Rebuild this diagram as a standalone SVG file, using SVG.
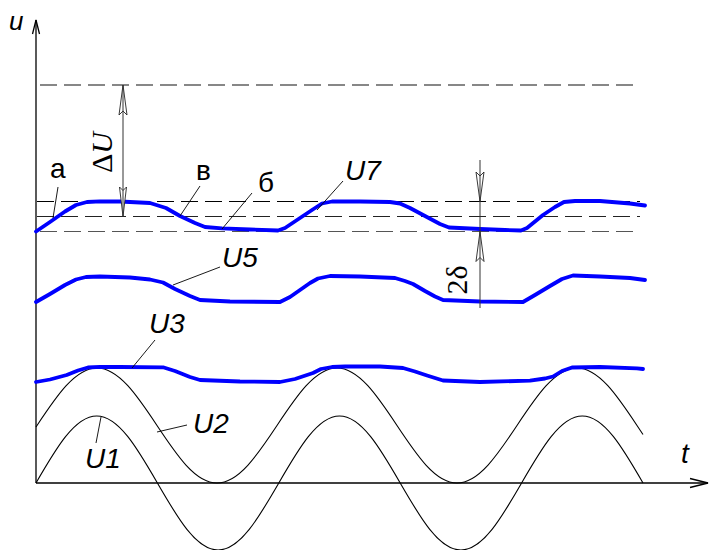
<svg xmlns="http://www.w3.org/2000/svg" width="709" height="550" viewBox="0 0 709 550">
<style>
.ax{stroke:#000;stroke-width:1.3;fill:none}
.dash{stroke-width:1.2;stroke-dasharray:17 7;fill:none}
.sin{stroke:#000;stroke-width:1.1;fill:none}
.blue{stroke:#0000ff;stroke-width:3.8;fill:none;stroke-linejoin:round;stroke-linecap:round}
.lead{stroke:#000;stroke-width:0.9;fill:none}
.dim{stroke:#333;stroke-width:1;fill:none}
.ah{fill:#fff;stroke:#222;stroke-width:0.9}
.lbl{font-family:"Liberation Sans",Arial,sans-serif;font-size:28px;fill:#000}
.it{font-style:italic}
.ser{font-family:"Liberation Serif","Times New Roman",serif;font-size:30px;fill:#000}
</style>
<rect width="709" height="550" fill="#fff"/>
<g id="axes">
<line class="ax" x1="36" y1="20" x2="36" y2="483"/>
<polyline class="ax" points="32.5,34 36,20 39.5,34"/>
<line class="ax" x1="36" y1="483" x2="708" y2="483"/>
<polyline class="ax" points="690,478.5 708,483 690,487.5"/>
<text class="lbl it" x="9" y="30" style="font-size:26px">u</text>
<text class="lbl it" x="681" y="463">t</text>
</g>
<g id="levels">
<line class="dash" stroke="#111" x1="40" y1="85" x2="640" y2="85"/>
<line class="dash" stroke="#000" x1="37" y1="201.5" x2="640" y2="201.5"/>
<line class="dash" stroke="#222" x1="37" y1="216.5" x2="640" y2="216.5"/>
<line class="dash" stroke="#555" x1="40" y1="231.5" x2="640" y2="231.5"/>
</g>
<g id="U1">
<path class="sin" d="M36,483 c19.8,-34.3 38.73,-67 60.7,-67 c21.97,0 40.9,32.7 60.7,67 c19.8,34.3 38.73,67 60.7,67 c21.97,0 40.9,-32.7 60.7,-67 c19.8,-34.3 38.73,-67 60.7,-67 c21.97,0 40.9,32.7 60.7,67 c19.8,34.3 38.73,67 60.7,67 c21.97,0 40.9,-32.7 60.7,-67 c19.8,-34.3 38.73,-67 60.7,-67 c21.97,0 40.9,32.7 60.7,67"/>
</g>
<g id="U2">
<path class="sin" d="M36,427 L37,425.5 c19.57,-29.46 38.29,-57.5 60,-57.5 c21.71,0 40.43,28.04 60,57.5 c19.57,29.46 38.29,57.5 60,57.5 c21.71,0 40.43,-28.04 60,-57.5 c19.57,-29.46 38.29,-57.5 60,-57.5 c21.71,0 40.43,28.04 60,57.5 c19.57,29.46 38.29,57.5 60,57.5 c21.71,0 40.43,-28.04 60,-57.5 c19.57,-29.46 38.29,-57.5 60,-57.5 c21.71,0 40.43,28.04 60,57.5 l6,9"/>
</g>
<g id="U3">
<path class="blue" d="M36,382 L50,379.5 L66.7,375 L78,370.5 L88,367.5 L100,366.8 L120,367 L163,367.3 L175,371 L190,377 L200,380 L240,381.5 L280,382 L295,379 L313,373 L321,369 L332,367 L345,366.5 L380,366.5 L403,368 L415,371.5 L427,375.5 L443,380.5 L480,382 L530,380.7 L545,378.5 L553,376.5 L562,371 L572,367.5 L600,367 L637,368.3 L643,369"/>
</g>
<g id="U5">
<path class="blue" d="M36,302 L50,294 L65,285 L76,279.5 L86,277 L100,276.5 L130,277.5 L150,279.5 L163,282.5 L175,289 L190,296 L200,300 L230,301.5 L280,302 L290,297 L300,290 L310,283 L318,278.5 L330,276 L360,276.5 L395,278 L405,281 L413,284 L425,291 L435,296.5 L443,300 L480,301.5 L523,302 L535,295 L550,286 L562,279 L573,275.5 L600,276.5 L630,278 L645,280"/>
</g>
<g id="U7">
<path class="blue" d="M36,231.5 L50,222 L65,211.5 L76,205 L87,202 L100,201.3 L120,201.5 L150,203 L166,208 L180,216 L195,223 L205,227 L222,228.3 L250,229.5 L278,230.5 L285,228 L300,218 L312,210 L322,203.5 L332,201.5 L360,201.5 L390,202 L400,203.5 L410,208 L425,216 L440,224 L449,227.5 L480,229 L505,230 L521,230.5 L527,228 L543,215 L555,207 L564,202 L575,201 L600,201 L630,203.5 L645,205.5"/>
</g>
<g id="dimDeltaU">
<polygon class="ah" points="123,85 119,115 123,111 127,115"/>
<polygon class="ah" points="123,216.5 119.5,187 123,190.5 126.5,187"/>
<line class="dim" x1="123" y1="85" x2="123" y2="216.5"/>
<text class="ser" transform="translate(112,152.5) rotate(-90)" text-anchor="middle">Δ<tspan font-style="italic">U</tspan></text>
</g>
<g id="dim2delta">
<polygon class="ah" points="480,201.5 476,172 480,176 484,172"/>
<polygon class="ah" points="480,231.5 476,261.5 480,257.5 484,261.5"/>
<line class="dim" x1="480" y1="160" x2="480" y2="308"/>
<text class="ser" transform="translate(467,280) rotate(-90)" text-anchor="middle">2δ</text>
</g>
<g id="labels">
<line class="lead" x1="58" y1="187" x2="53" y2="218"/>
<text class="lbl" x="50" y="178">а</text>
<line class="lead" x1="200" y1="186" x2="180" y2="216"/>
<text class="lbl" x="196" y="180">в</text>
<line class="lead" x1="252" y1="193" x2="222" y2="229"/>
<text class="lbl" x="258" y="192">б</text>
<line class="lead" x1="343" y1="181" x2="317" y2="210"/>
<text class="lbl it" x="345" y="180">U7</text>
<line class="lead" x1="220" y1="267" x2="173" y2="285"/>
<text class="lbl it" x="222" y="267">U5</text>
<line class="lead" x1="155" y1="340" x2="132" y2="368"/>
<text class="lbl it" x="149" y="333">U3</text>
<line class="lead" x1="187" y1="425" x2="157" y2="432"/>
<text class="lbl it" x="193" y="433">U2</text>
<line class="lead" x1="96" y1="443" x2="101" y2="417"/>
<text class="lbl it" x="85" y="468">U1</text>
</g>
</svg>
